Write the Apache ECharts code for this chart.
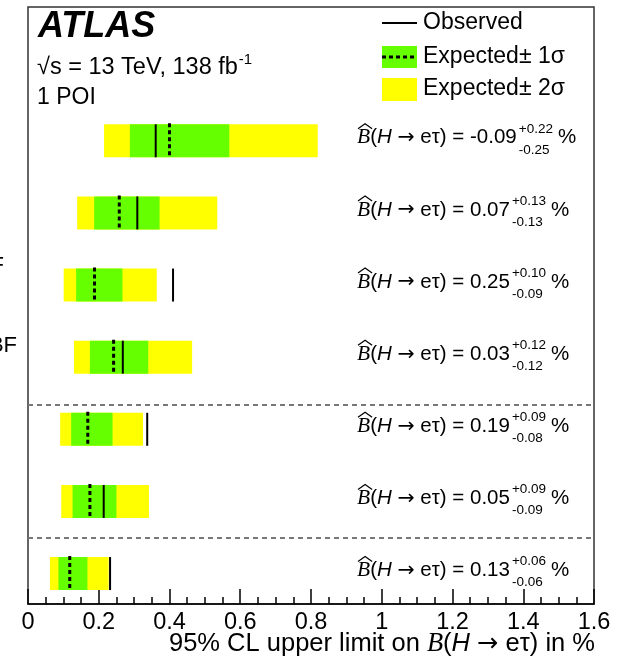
<!DOCTYPE html>
<html>
<head>
<meta charset="utf-8">
<script src="https://cdn.jsdelivr.net/npm/echarts@6/dist/echarts.min.js"></script>
<style>
  html, body { margin: 0; padding: 0; background: #fff; }
  #chart { width: 618px; height: 657px; }
</style>
</head>
<body>
<div id="chart"></div>
<script>
// 95% CL upper limits on B(H -> e tau) in %, one entry per fit, listed top to bottom
const observed  = [0.361, 0.309, 0.410, 0.268, 0.337, 0.214, 0.232];
const expected  = [0.400, 0.258, 0.188, 0.242, 0.169, 0.175, 0.118];
const minus2Sig = [0.215, 0.139, 0.101, 0.130, 0.091, 0.094, 0.062];
const minus1Sig = [0.288, 0.187, 0.136, 0.175, 0.122, 0.126, 0.086];
const plus1Sig  = [0.569, 0.372, 0.267, 0.340, 0.239, 0.250, 0.168];
const plus2Sig  = [0.819, 0.535, 0.364, 0.464, 0.325, 0.342, 0.228];

// best-fit branching ratio (%) with its upper / lower uncertainty
const bestFit = ['-0.09', '0.07', '0.25', '0.03', '0.19', '0.05', '0.13'];
const errUp   = ['+0.22', '+0.13', '+0.10', '+0.12', '+0.09', '+0.09', '+0.06'];
const errDown = ['-0.25', '-0.13', '-0.09', '-0.12', '-0.08', '-0.09', '-0.06'];

// x axis range and major tick step
const xMin = 0, xMax = 1.6, xStep = 0.2;
// dashed separators between groups of fits (in row units)
const groupBreaks = [3.66, 5.5];

const SANS = "'Liberation Sans', Arial, Helvetica, sans-serif";
const SERIF = "'Liberation Serif', 'Times New Roman', serif";
const ARROW = "'DejaVu Sans', sans-serif";

const measureCtx = document.createElement('canvas').getContext('2d');
function textWidth(str, size, family, style) {
  measureCtx.font = (style || 'normal') + ' normal ' + size + 'px ' + family;
  return measureCtx.measureText(str).width;
}

const rows = observed.map((_, i) => [
  minus2Sig[i], minus1Sig[i], plus1Sig[i], plus2Sig[i], expected[i], observed[i], i
]);

const MAIN = 20.5, SMALL = 13.5, BOX_H = 33;

function richStyles(size) {
  return {
    b: { fontFamily: SERIF, fontStyle: 'italic', fontSize: size + 1, fill: '#000' },
    n: { fontFamily: SANS, fontSize: size, fill: '#000' },
    i: { fontFamily: SANS, fontStyle: 'italic', fontSize: size, fill: '#000' },
    a: { fontFamily: ARROW, fontSize: size, fill: '#000' }
  };
}

function renderRow(params, api) {
  const row = api.value(6);
  const i = params.dataIndex;
  const c = api.coord([api.value(0), row]);
  const yc = c[1];
  const xm2 = c[0];
  const xm1 = api.coord([api.value(1), row])[0];
  const xp1 = api.coord([api.value(2), row])[0];
  const xp2 = api.coord([api.value(3), row])[0];
  const xe  = api.coord([api.value(4), row])[0];
  const xo  = api.coord([api.value(5), row])[0];

  // annotation with the best-fit value
  const tx = params.coordSys.x + 329;
  const ty = yc - 3;
  const tail = ') = ' + bestFit[i];
  const bW = textWidth('B', MAIN + 1, SERIF, 'italic');
  const wMain = bW + textWidth('(', MAIN, SANS) + textWidth('H', MAIN, SANS, 'italic')
              + textWidth(' ', MAIN, SANS) + textWidth('\u2192', MAIN, ARROW)
              + textWidth(' e\u03c4' + tail, MAIN, SANS);
  const wSmall = Math.max(textWidth(errUp[i], SMALL, SANS), textWidth(errDown[i], SMALL, SANS));
  const hatY = ty - 9;

  return {
    type: 'group',
    children: [
      { type: 'rect', shape: { x: xm2, y: yc - BOX_H / 2, width: xp2 - xm2, height: BOX_H },
        style: { fill: '#ffff00' } },
      { type: 'rect', shape: { x: xm1, y: yc - BOX_H / 2, width: xp1 - xm1, height: BOX_H },
        style: { fill: '#66ff00' } },
      { type: 'line', shape: { x1: xe, y1: yc - BOX_H / 2 - 1, x2: xe, y2: yc + BOX_H / 2 + 1 },
        style: { stroke: '#000', lineWidth: 3, lineDash: [4, 3] } },
      { type: 'line', shape: { x1: xo, y1: yc - BOX_H / 2, x2: xo, y2: yc + BOX_H / 2 },
        style: { stroke: '#000', lineWidth: 2 } },
      { type: 'text', x: tx, y: ty,
        style: {
          text: '{b|B}{n|(}{i|H}{n| }{a|\u2192}{n| e\u03c4' + tail + '}',
          verticalAlign: 'middle', align: 'left',
          rich: richStyles(MAIN)
        } },
      // circumflex over the estimator symbol
      { type: 'polyline',
        shape: { points: [[tx + 1, hatY], [tx + bW / 2 + 1.5, hatY - 5], [tx + bW + 2, hatY]] },
        style: { stroke: '#000', lineWidth: 1.2, fill: null } },
      { type: 'text', x: tx + wMain + 2, y: yc - 12,
        style: { text: errUp[i], font: SMALL + 'px ' + SANS, align: 'left', verticalAlign: 'middle', fill: '#000' } },
      { type: 'text', x: tx + wMain + 2, y: yc + 9,
        style: { text: errDown[i], font: SMALL + 'px ' + SANS, align: 'left', verticalAlign: 'middle', fill: '#000' } },
      { type: 'text', x: tx + wMain + wSmall + 7, y: ty,
        style: { text: '%', font: MAIN + 'px ' + SANS, align: 'left', verticalAlign: 'middle', fill: '#000' } }
    ]
  };
}

const chart = echarts.init(document.getElementById('chart'), null, { renderer: 'canvas' });

const option = {
  animation: false,
  backgroundColor: '#fff',
  grid: { left: 28, right: 24, top: 7, bottom: 53, show: true,
          borderColor: '#333', borderWidth: 1.5, backgroundColor: 'transparent' },
  xAxis: {
    type: 'value', min: xMin, max: xMax, interval: xStep,
    axisLine: { show: true, onZero: false, lineStyle: { color: '#000', width: 1.5 } },
    axisTick: { show: true, inside: true, length: 15, lineStyle: { color: '#000', width: 1.5 } },
    minorTick: { show: true, splitNumber: 4, length: 7, lineStyle: { color: '#000', width: 1.5 } },
    splitLine: { show: false },
    axisLabel: { color: '#000', fontSize: 23.5, fontFamily: SANS, margin: 7 }
  },
  yAxis: { type: 'value', min: -1.855, max: 6.422, inverse: true, show: false },
  series: [{
    type: 'custom',
    renderItem: renderRow,
    data: rows,
    encode: { x: [0, 1, 2, 3, 4, 5], y: 6 },
    clip: false,
    markLine: {
      silent: true, symbol: 'none', label: { show: false },
      lineStyle: { color: '#777', width: 2, type: [5, 4] },
      data: groupBreaks.map(v => ({ yAxis: v }))
    }
  }],
  graphic: [
    { type: 'text', x: 38, y: 27.5,
      style: { text: 'ATLAS', font: 'italic bold 36px ' + SANS, verticalAlign: 'middle', fill: '#000' } },
    { type: 'text', x: 37, y: 68,
      style: { text: '\u221as = 13 TeV, 138 fb', font: '23.5px ' + SANS, verticalAlign: 'middle', fill: '#000' } },
    { type: 'text', x: 38 + textWidth('\u221as = 13 TeV, 138 fb', 23.5, SANS), y: 60,
      style: { text: '-1', font: '15px ' + SANS, verticalAlign: 'middle', fill: '#000' } },
    { type: 'text', x: 37, y: 98,
      style: { text: '1 POI', font: '23px ' + SANS, verticalAlign: 'middle', fill: '#000' } },

    // legend
    { type: 'line', shape: { x1: 382, y1: 23, x2: 417, y2: 23 }, style: { stroke: '#000', lineWidth: 2 } },
    { type: 'text', x: 423, y: 23,
      style: { text: 'Observed', font: '23px ' + SANS, verticalAlign: 'middle', fill: '#000' } },
    { type: 'rect', shape: { x: 382, y: 46, width: 35, height: 22 }, style: { fill: '#66ff00' } },
    { type: 'line', shape: { x1: 382, y1: 57, x2: 417, y2: 57 },
      style: { stroke: '#000', lineWidth: 3, lineDash: [4, 3] } },
    { type: 'text', x: 423, y: 57,
      style: { text: 'Expected\u00b1 1\u03c3', font: '23px ' + SANS, verticalAlign: 'middle', fill: '#000' } },
    { type: 'rect', shape: { x: 382, y: 78, width: 35, height: 23 }, style: { fill: '#ffff00' } },
    { type: 'text', x: 423, y: 89,
      style: { text: 'Expected\u00b1 2\u03c3', font: '23px ' + SANS, verticalAlign: 'middle', fill: '#000' } },

    // category labels running off the left edge
    { type: 'text', x: 4, y: 266,
      style: { text: 'F', font: '22px ' + SANS, align: 'right', verticalAlign: 'middle', fill: '#000' } },
    { type: 'text', x: 17, y: 346,
      style: { text: 'BF', font: '22px ' + SANS, align: 'right', verticalAlign: 'middle', fill: '#000' } },

    // x axis title
    { type: 'text', x: 595, y: 644,
      style: {
        text: '{n|95% CL upper limit on }{b|B}{n|(}{i|H}{n| }{a|\u2192}{n| e\u03c4) in %}',
        align: 'right', verticalAlign: 'middle',
        rich: richStyles(25.5)
      } }
  ]
};

chart.setOption(option);
</script>
</body>
</html>
